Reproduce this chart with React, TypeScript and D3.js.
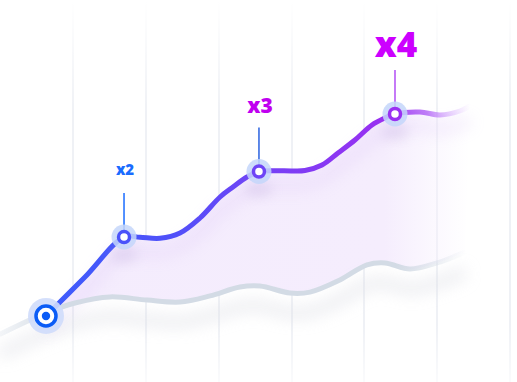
import React from 'react';
import * as d3 from 'd3';

const W = 517;
const H = 382;

// grid positions (domain units)
const gridTicks = [1, 2, 3, 4, 5, 6, 7];

// main growth series
const mainX = [0.625, 1.161, 1.697, 1.916, 2.191, 2.466, 2.741, 3.016, 3.194, 3.386, 3.551, 3.771, 4.005, 4.183, 4.417, 4.637, 4.87, 5.104, 5.282, 5.42, 5.763, 6.038, 6.313, 6.45];
const mainY = [10.63, 22.81, 35.31, 35.22, 34.91, 36.56, 41.25, 47.81, 50.94, 54.06, 55.78, 56.03, 55.94, 56.09, 57.81, 61.56, 65.63, 70.31, 72.5, 73.75, 74.38, 73.44, 74.69, 76.25];

// baseline series
const baseX = [0, 0.625, 1.023, 1.504, 2.013, 2.466, 2.878, 3.29, 3.565, 3.977, 4.252, 4.664, 5.035, 5.282, 5.626, 5.997, 6.381];
const baseY = [5, 11.6, 14.7, 16.6, 15.6, 15, 16.9, 19.7, 20, 17.8, 18.1, 21.9, 26.6, 27.2, 25.3, 27.2, 30.6];

// milestones (indices into main series)
const milestoneIdx = [2, 10, 19];
const milestoneLabels = ['x2', 'x3', 'x4'];
const labelSizes = [15, 21, 35];
const labelColors = ['#1a6cff', '#c000f0', '#cc00ff'];
const connectorColors = ['#1a6cff', '#2a62e0', '#b24ef5'];
const ringColors = ['#4a52fa', '#6e44f6', '#9a30f2'];
const labelOffsets = [62, 59, 57];

export default function App() {
  const x = d3.scaleLinear().domain([0, 7]).range([0.5, 510]);
  const y = d3.scaleLinear().domain([0, 100]).range([350, 30]);

  const mainPts: [number, number][] = mainX.map((v, i) => [x(v), y(mainY[i])]);
  const basePts: [number, number][] = baseX.map((v, i) => [x(v), y(baseY[i])]);

  const line = d3.line<[number, number]>().x(d => d[0]).y(d => d[1]).curve(d3.curveCatmullRom.alpha(0.5));
  const mainPath = line(mainPts) || '';
  const basePath = line(basePts) || '';

  const baseInRange = basePts.filter(p => p[0] >= mainPts[0][0] - 0.5);
  const revPath = (line(baseInRange.slice().reverse()) || '').replace(/^M/, 'L');
  const areaPath = mainPath + revPath + 'Z';

  const start = mainPts[0];

  return (
    <div style={{ position: 'fixed', left: 0, top: 0 }}>
      <svg width={W} height={H} style={{ display: 'block', background: '#fff' }}>
        <defs>
          <linearGradient id="gridGrad" x1="0" y1="0" x2="0" y2="1">
            <stop offset="0" stopColor="#dfe3ec" stopOpacity="0" />
            <stop offset="0.3" stopColor="#dfe3ec" stopOpacity="1" />
            <stop offset="0.85" stopColor="#dfe3ec" stopOpacity="1" />
            <stop offset="1" stopColor="#dfe3ec" stopOpacity="0.3" />
          </linearGradient>
          <linearGradient id="mainGrad" gradientUnits="userSpaceOnUse" x1={x(0.6)} y1="0" x2={x(6.45)} y2="0">
            <stop offset="0" stopColor="#3d5dfc" />
            <stop offset="0.3" stopColor="#5050f9" />
            <stop offset="0.55" stopColor="#7a3ff5" />
            <stop offset="0.8" stopColor="#9a2ff1" />
            <stop offset="0.9" stopColor="#b060f5" stopOpacity="0.8" />
            <stop offset="1" stopColor="#d0a0ff" stopOpacity="0" />
          </linearGradient>
          <linearGradient id="baseGrad" gradientUnits="userSpaceOnUse" x1="0" y1="0" x2={x(6.4)} y2="0">
            <stop offset="0" stopColor="#d3dbe5" stopOpacity="0.25" />
            <stop offset="0.12" stopColor="#d3dbe5" stopOpacity="1" />
            <stop offset="0.85" stopColor="#d3dbe5" stopOpacity="1" />
            <stop offset="1" stopColor="#d3dbe5" stopOpacity="0" />
          </linearGradient>
          <linearGradient id="areaGrad" gradientUnits="userSpaceOnUse" x1={x(0.6)} y1="0" x2={x(6.45)} y2="0">
            <stop offset="0" stopColor="#f4ecfd" stopOpacity="1" />
            <stop offset="0.8" stopColor="#f5edfd" stopOpacity="1" />
            <stop offset="1" stopColor="#f7f0fe" stopOpacity="0" />
          </linearGradient>
          <filter id="blur8" x="-20%" y="-50%" width="140%" height="200%">
            <feGaussianBlur stdDeviation="8" />
          </filter>
          <filter id="blur6" x="-50%" y="-50%" width="200%" height="200%">
            <feGaussianBlur stdDeviation="6" />
          </filter>
        </defs>

        {/* grid */}
        {gridTicks.map(t => (
          <rect key={t} x={Math.round(x(t)) - 0.5} y={0} width={1} height={H} fill="url(#gridGrad)" />
        ))}

        {/* area fill */}
        <path d={areaPath} fill="url(#areaGrad)" />

        {/* shadows */}
        <path d={basePath} transform="translate(0,20)" fill="none" stroke="#dcdde4" strokeWidth={10} opacity={0.6} filter="url(#blur8)" />
        <path d={mainPath} transform="translate(0,14)" fill="none" stroke="#c9a6f0" strokeWidth={8} opacity={0.25} filter="url(#blur8)" />

        {/* base line */}
        <path d={basePath} fill="none" stroke="url(#baseGrad)" strokeWidth={5} strokeLinecap="round" />

        {/* main line */}
        <path d={mainPath} fill="none" stroke="url(#mainGrad)" strokeWidth={5} strokeLinecap="round" />

        {/* marker shadows */}
        {milestoneIdx.map((mi, i) => (
          <ellipse key={'s' + i} cx={mainPts[mi][0]} cy={mainPts[mi][1] + 18} rx={14} ry={8} fill="#b9a6d8" opacity={0.25} filter="url(#blur6)" />
        ))}

        {/* start marker */}
        <circle cx={start[0]} cy={start[1]} r={18} fill="#cfdcfb" opacity={0.9} />
        <circle cx={start[0]} cy={start[1]} r={10} fill="#fff" stroke="#0b5cf6" strokeWidth={3.5} />
        <circle cx={start[0]} cy={start[1]} r={4.2} fill="#0b5cf6" />

        {/* milestones */}
        {milestoneIdx.map((mi, i) => {
          const [px, py] = mainPts[mi];
          return (
            <g key={i}>
              <line x1={px} x2={px} y1={py - 44} y2={py - 6} stroke={connectorColors[i]} strokeWidth={1.5} />
              <circle cx={px} cy={py} r={12.5} fill="#c4d6fa" opacity={0.85} />
              <circle cx={px} cy={py} r={5.5} fill="#fff" stroke={ringColors[i]} strokeWidth={3.5} />
              <text
                x={px + 1}
                y={py - labelOffsets[i]}
                textAnchor="middle"
                fontFamily="'Open Sans', 'Liberation Sans', sans-serif"
                fontWeight={800}
                fontSize={labelSizes[i]}
                fill={labelColors[i]}
              >
                {milestoneLabels[i]}
              </text>
            </g>
          );
        })}
      </svg>
    </div>
  );
}
